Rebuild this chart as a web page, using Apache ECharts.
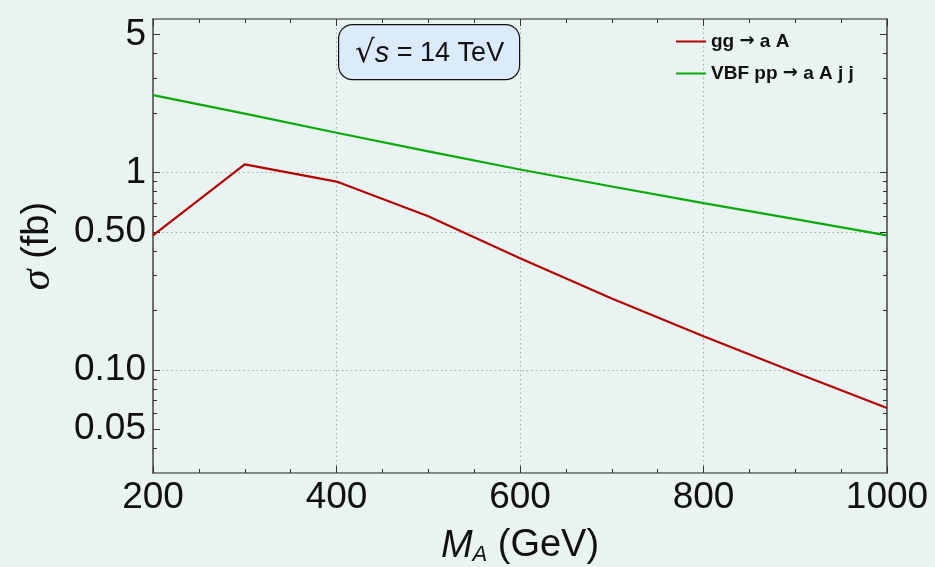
<!DOCTYPE html>
<html>
<head>
<meta charset="utf-8">
<script src="https://cdn.jsdelivr.net/npm/echarts@6/dist/echarts.min.js"></script>
<style>
  html, body { margin: 0; padding: 0; background: #e8f3f2; }
  #chart { width: 935px; height: 567px; }
</style>
</head>
<body>
<div id="chart"></div>
<script>
// Cross sections (fb) versus the pseudoscalar mass M_A (GeV), sqrt(s) = 14 TeV
const massValues = [200, 300, 400, 500, 600, 700, 800, 900, 1000];
const ggToAA = [0.48, 1.10, 0.90, 0.60, 0.368, 0.23, 0.148, 0.097, 0.064];
const vbfToAAjj = [2.47, 1.99, 1.59, 1.28, 1.036, 0.85, 0.70, 0.58, 0.48];
const seriesNames = ['gg \u2192 a A', 'VBF pp \u2192 a A j j'];

// Axis ticks
const xTicks = [200, 400, 600, 800, 1000];
const yMajorTicks = [0.05, 0.1, 0.5, 1, 5];
const yTickLabels = ['0.05', '0.10', '0.50', '1', '5'];
const yMinorTicks = [0.04, 0.06, 0.07, 0.08, 0.09, 0.2, 0.3, 0.4, 0.6, 0.7, 0.8, 0.9, 2, 3, 4];

const FONT = 'Liberation Sans';
const AXIS_COLOR = '#666';
const TICK_COLOR = '#333';
const Y_MIN = 0.03, Y_MAX = 6;

function yAxis(position, ticks, tickLen, withLabels) {
  return {
    type: 'log',
    min: Y_MIN,
    max: Y_MAX,
    position: position,
    axisLine: { show: true, lineStyle: { color: AXIS_COLOR, width: 1.5 } },
    axisTick: { show: true, inside: true, length: tickLen, customValues: ticks,
                lineStyle: { color: TICK_COLOR, width: 1 } },
    axisLabel: withLabels ? {
      show: true, customValues: yMajorTicks, margin: 7,
      fontFamily: FONT, fontSize: 37, color: '#111',
      formatter: v => {
        const i = yMajorTicks.findIndex(t => Math.abs(t - v) < 1e-9);
        return i >= 0 ? yTickLabels[i] : '';
      }
    } : { show: false },
    splitLine: withLabels ? {
      show: true, showMinLine: false, showMaxLine: false,
      lineStyle: { color: '#a8a8a8', width: 1, type: [1.5, 3] }
    } : { show: false },
    minorTick: { show: false },
    name: withLabels ? '{g|\u03c3} (fb)' : '',
    nameLocation: 'middle',
    nameGap: 94,
    nameTextStyle: {
      fontFamily: FONT, fontSize: 38, color: '#111',
      rich: { g: { fontFamily: 'Liberation Serif', fontStyle: 'italic', fontSize: 42, color: '#111' } }
    }
  };
}

function xAxis(position, withLabels) {
  return {
    type: 'value',
    min: 200,
    max: 1000,
    interval: 200,
    position: position,
    axisLine: { show: true, lineStyle: { color: AXIS_COLOR, width: 1.5 } },
    axisTick: { show: true, inside: true, length: 7, lineStyle: { color: TICK_COLOR, width: 1 } },
    minorTick: { show: true, splitNumber: 4, length: 4, lineStyle: { color: TICK_COLOR, width: 1 } },
    axisLabel: withLabels ? {
      show: true, margin: 6, fontFamily: FONT, fontSize: 37, color: '#111',
      customValues: xTicks,
      formatter: v => String(v)
    } : { show: false },
    splitLine: withLabels ? {
      show: true, showMinLine: false, showMaxLine: false,
      lineStyle: { color: '#a8a8a8', width: 1, type: [1.5, 3] }
    } : { show: false },
    name: withLabels ? '{m|M}{s|A} (GeV)' : '',
    nameLocation: 'middle',
    nameGap: 53,
    nameTextStyle: {
      fontFamily: FONT, fontSize: 38, color: '#111', lineHeight: 40,
      rich: {
        m: { fontFamily: FONT, fontStyle: 'italic', fontSize: 38, color: '#111', lineHeight: 40 },
        s: { fontFamily: FONT, fontStyle: 'italic', fontSize: 22, color: '#111',
             verticalAlign: 'bottom', lineHeight: 22, padding: [18, 0, 0, 0] }
      }
    }
  };
}

const chart = echarts.init(document.getElementById('chart'), null, { renderer: 'canvas' });

chart.setOption({
  backgroundColor: '#e8f3f2',
  animation: false,
  grid: { left: 153, right: 48, top: 19, bottom: 94, containLabel: false, outerBoundsMode: 'none' },
  xAxis: [xAxis('bottom', true), xAxis('top', false)],
  yAxis: [
    yAxis('left', yMajorTicks, 7, true),
    yAxis('left', yMinorTicks, 4, false),
    yAxis('right', yMajorTicks, 7, false),
    yAxis('right', yMinorTicks, 4, false)
  ],
  legend: {
    orient: 'vertical',
    left: 671,
    top: 27,
    itemWidth: 30,
    itemHeight: 2,
    itemGap: 13,
    icon: 'rect',
    formatter: name => name.replace('\u2192', '{a|\u2192}'),
    textStyle: {
      fontFamily: FONT, fontWeight: 'bold', fontSize: 19, color: '#111', padding: [0, 0, 0, 0],
      rich: { a: { fontFamily: 'DejaVu Sans', fontWeight: 'bold', fontSize: 18, color: '#111' } }
    },
    data: seriesNames
  },
  graphic: [{
    type: 'group',
    left: 338,
    top: 24,
    children: [
      { type: 'rect', shape: { x: 0, y: 0, width: 181, height: 55, r: 14 },
        style: { fill: '#dcebfb', stroke: '#111', lineWidth: 1.2 } },
      { type: 'text', x: 91, y: 29,
        style: {
          text: '{r|\u221a}{i|s} = 14 TeV',
          align: 'center', verticalAlign: 'middle',
          fontFamily: FONT, fontSize: 27, fill: '#111',
          rich: {
            r: { fontFamily: 'DejaVu Sans', fontSize: 31, fill: '#111' },
            i: { fontFamily: FONT, fontStyle: 'italic', fontSize: 29, fill: '#111' }
          }
        } }
    ]
  }],
  series: [
    {
      name: seriesNames[0], type: 'line', xAxisIndex: 0, yAxisIndex: 0,
      data: massValues.map((m, i) => [m, ggToAA[i]]),
      showSymbol: false, color: '#b30000',
      lineStyle: { color: '#b30000', width: 2.2 }
    },
    {
      name: seriesNames[1], type: 'line', xAxisIndex: 0, yAxisIndex: 0,
      data: massValues.map((m, i) => [m, vbfToAAjj[i]]),
      showSymbol: false, color: '#0aaa0a',
      lineStyle: { color: '#0aaa0a', width: 2.2 }
    }
  ]
});
</script>
</body>
</html>
